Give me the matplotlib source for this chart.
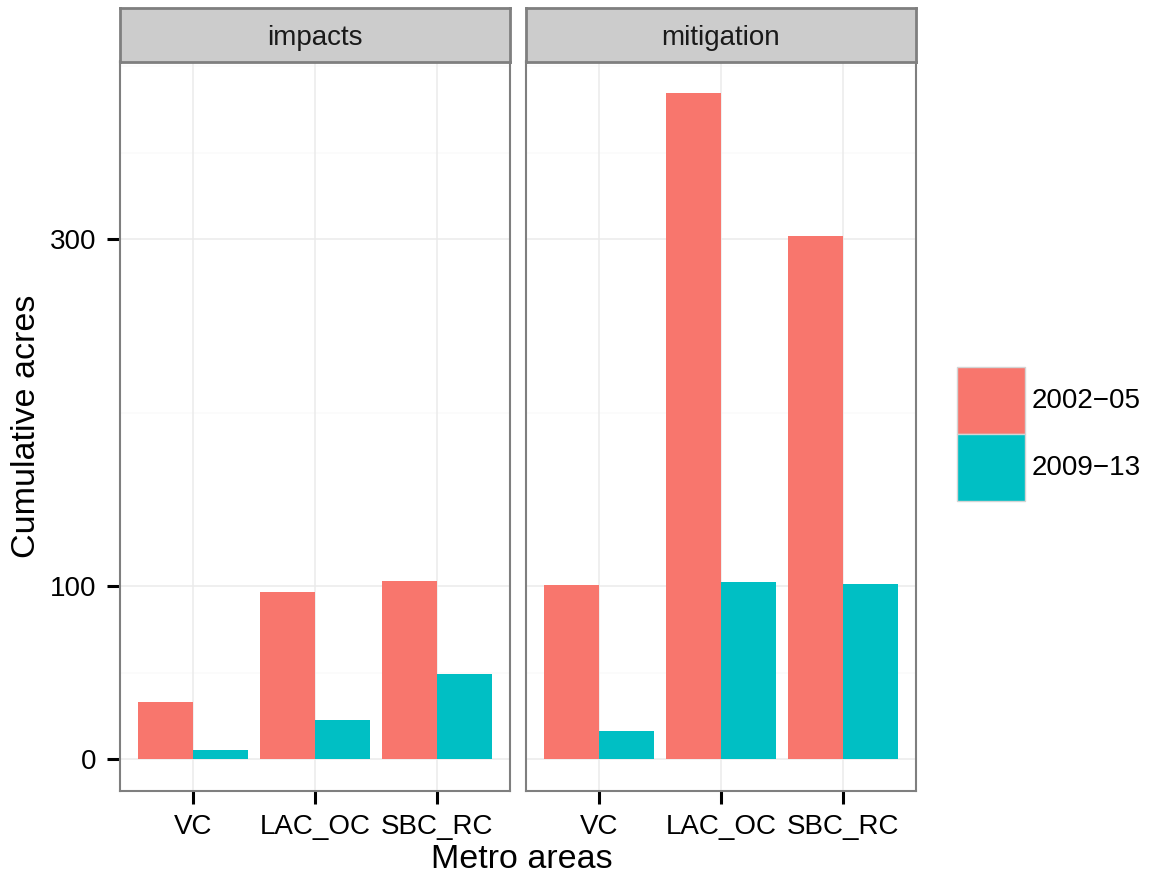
import matplotlib
matplotlib.use("Agg")
import matplotlib.pyplot as plt
from matplotlib.patches import Patch
import numpy as np

plt.rcParams["font.family"] = ["Liberation Sans", "DejaVu Sans"]

# ---- data -------------------------------------------------------------
areas = ["VC", "LAC_OC", "SBC_RC"]
periods = ["2002\u221205", "2009\u221213"]
facets = ["impacts", "mitigation"]

impacts_2002_05 = [33.2, 96.8, 102.7]
impacts_2009_13 = [5.4, 22.9, 49.4]
mitigation_2002_05 = [100.6, 384.6, 301.8]
mitigation_2009_13 = [16.6, 102.3, 101.2]

facet_values = {
    "impacts": [impacts_2002_05, impacts_2009_13],
    "mitigation": [mitigation_2002_05, mitigation_2009_13],
}

y_breaks = [0, 100, 300]
y_minor = [50, 200, 350, 400]

colors = ["#F8766D", "#00BFC4"]

# ---- layout (pixel geometry of a 1154 x 877 canvas) -------------------
FW, FH = 1154, 877
fig = plt.figure(figsize=(FW / 100, FH / 100), dpi=100)

panel_left = [120, 526]
panel_w = 390
panel_top, panel_bot = 61.5, 791
strip_top, strip_bot = 8, 61.5

def fx(px):
    return px / FW

def fy(py):
    return 1 - py / FH

tick_fs = 20
title_fs = 24.5
border_col = "#7F7F7F"

bar_w = 0.45
x = np.arange(1, len(areas) + 1)

for k, facet in enumerate(facets):
    ax = fig.add_axes([fx(panel_left[k]), fy(panel_bot),
                       fx(panel_w), (panel_bot - panel_top) / FH])
    ax.set_facecolor("white")
    ax.set_xlim(0.4, len(areas) + 0.6)
    ax.set_ylim(-18.3, 402.6)

    # grid
    for yv in y_minor:
        ax.axhline(yv, color="#FAFAFA", lw=1.1, zorder=0)
    for yv in y_breaks:
        ax.axhline(yv, color="#EBEBEB", lw=1.1, zorder=0.5)
    for xv in x:
        ax.axvline(xv, color="#EBEBEB", lw=1.1, zorder=0.5)

    # bars
    for j, vals in enumerate(facet_values[facet]):
        ax.bar(x + (j - 0.5) * bar_w, vals, width=bar_w,
               color=colors[j], linewidth=0, zorder=2)

    ax.set_xticks(x)
    ax.set_xticklabels(areas, fontsize=tick_fs, color="black")
    ax.set_yticks(y_breaks)
    ax.set_yticklabels([str(v) for v in y_breaks], fontsize=tick_fs, color="black")
    ax.tick_params(axis="both", direction="out", length=9.4, width=2.2,
                   color="black")
    ax.tick_params(axis="x", pad=7.0)
    ax.tick_params(axis="y", pad=7.9)
    if k > 0:
        ax.tick_params(axis="y", length=0, labelleft=False)

    for sp in ax.spines.values():
        sp.set_color(border_col)
        sp.set_linewidth(1.5)
        sp.set_zorder(5)

    # facet strip
    sax = fig.add_axes([fx(panel_left[k]), fy(strip_bot),
                        fx(panel_w), (strip_bot - strip_top) / FH])
    sax.set_facecolor("#CCCCCC")
    sax.set_xticks([])
    sax.set_yticks([])
    for sp in sax.spines.values():
        sp.set_color(border_col)
        sp.set_linewidth(2.0)
    sax.text(0.5, (strip_bot - 45) / (strip_bot - strip_top), facet,
             ha="center", va="baseline", fontsize=tick_fs,
             color="#1A1A1A", transform=sax.transAxes)

# axis titles
fig.text(fx(522), fy(868.5), "Metro areas", ha="center", va="baseline",
         fontsize=title_fs, color="black")
fig.text(fx(11), fy((panel_top + panel_bot) / 2), "Cumulative acres",
         rotation=90, ha="left", va="center", fontsize=title_fs,
         color="black")

# legend: square-ish keys stacked without spacing
handles = [Patch(facecolor=c, edgecolor="#D4D4D4", linewidth=1.0)
           for c in colors]
fs_px = tick_fs * 100 / 72
key_h = 67 / fs_px
fig.legend(handles, periods, loc="upper left",
           bbox_to_anchor=(fx(957), fy(367)), bbox_transform=fig.transFigure,
           frameon=False, fontsize=tick_fs, borderpad=0, borderaxespad=0,
           handlelength=68 / fs_px, handleheight=(key_h - 0.245) / 0.65,
           labelspacing=0, handletextpad=7 / fs_px)

fig.savefig("out.png", dpi=100)
